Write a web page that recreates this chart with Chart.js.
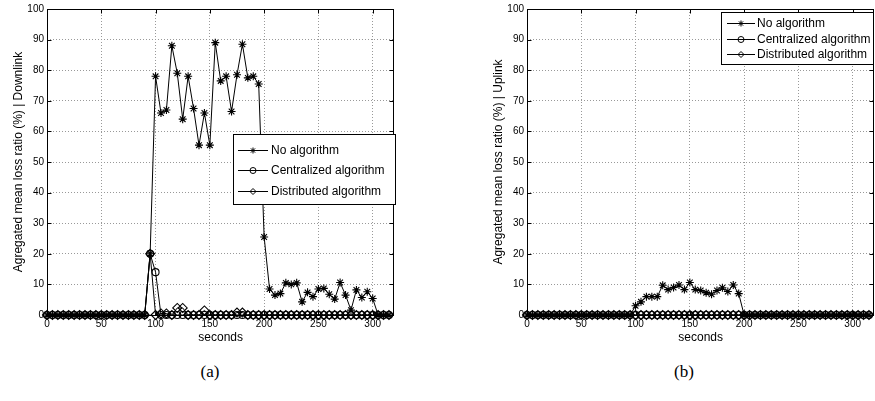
<!DOCTYPE html>
<html>
<head>
<meta charset="utf-8">
<script src="https://cdn.jsdelivr.net/npm/chart.js@4/dist/chart.umd.min.js"></script>
<style>
body{margin:0;background:#fff;width:875px;height:401px;overflow:hidden;position:relative}
.box{position:absolute;top:0}
.cap{position:absolute;top:362px;font:17px "Liberation Serif","DejaVu Serif",serif;line-height:20px;width:60px;text-align:center}
</style>
</head>
<body>
<div class="box" style="left:0"><canvas id="down" width="400" height="349"></canvas></div>
<div class="box" style="left:480px"><canvas id="up" width="400" height="349"></canvas></div>
<div class="cap" style="left:180px">(a)</div>
<div class="cap" style="left:654px">(b)</div>
<script>
var seconds = [0,5,10,15,20,25,30,35,40,45,
  50,55,60,65,70,75,80,85,90,95,
  100,105,110,115,120,125,130,135,140,145,
  150,155,160,165,170,175,180,185,190,195,
  200,205,210,215,220,225,230,235,240,245,
  250,255,260,265,270,275,280,285,290,295,
  300,305,310,315];

// Downlink
var downNone = [0,0,0,0,0,0,0,0,0,0,
  0,0,0,0,0,0,0,0,0,20,
  78,66,67,88,79,64,78,67.5,55.5,66,
  55.5,89,76.5,78,66.5,78.5,88.5,77.5,78,75.5,
  25.5,8.5,6.5,7,10.5,10,10.5,4.3,7.4,6,
  8.5,8.7,6.8,5.2,10.6,6.5,1.6,8.2,5.7,7.6,
  5.4,0,0,0];
var downCentral = [0,0,0,0,0,0,0,0,0,0,
  0,0,0,0,0,0,0,0,0,20,
  14,0,0,0,0,0,0,0,0,0,
  0,0,0,0,0,0,0,0,0,0,
  0,0,0,0,0,0,0,0,0,0,
  0,0,0,0,0,0,0,0,0,0,
  0,0,0,0];
var downDistrib = [0,0,0,0,0,0,0,0,0,0,
  0,0,0,0,0,0,0,0,0,20,
  0,0.5,0.5,0,2.3,2.3,0,0,0,1.5,
  0,0,0,0,0,0.8,0.8,0,0,0,
  0,0,0,0,0,0,0,0,0,0,
  0,0,0,0,0,0,0,0,0,0,
  0,0,0,0];

// Uplink
var upNone = [0,0,0,0,0,0,0,0,0,0,
  0,0,0,0,0,0,0,0,0,0,
  3,4.3,6,6,6,9.7,8.3,9,9.8,8.3,
  10.6,8.3,8,7.3,6.8,8,8.9,7.7,9.8,7,
  0,0,0,0,0,0,0,0,0,0,
  0,0,0,0,0,0,0,0,0,0,
  0,0,0,0];
var upCentral = [0,0,0,0,0,0,0,0,0,0,
  0,0,0,0,0,0,0,0,0,0,
  0,0,0,0,0,0,0,0,0,0,
  0,0,0,0,0,0,0,0,0,0,
  0,0,0,0,0,0,0,0,0,0,
  0,0,0,0,0,0,0,0,0,0,
  0,0,0,0];
var upDistrib = [0,0,0,0,0,0,0,0,0,0,
  0,0,0,0,0,0,0,0,0,0,
  0,0,0,0,0,0,0,0,0,0,
  0,0,0,0,0,0,0,0,0,0,
  0,0,0,0,0,0,0,0,0,0,
  0,0,0,0,0,0,0,0,0,0,
  0,0,0,0];

var xTicks = [0,50,100,150,200,250,300];
var yTicks = [0,10,20,30,40,50,60,70,80,90,100];
var names = ['No algorithm','Centralized algorithm','Distributed algorithm'];
var marks = ['star','circle','rectRot'];
var sizes = [4,3.5,4.5];

var F = '"Liberation Sans", Arial, Helvetica, sans-serif';

function pts(vals){
  return seconds.map(function(s, i){ return {x: s, y: vals[i]}; });
}

function sets(lists){
  return lists.map(function(vals, i){
    return {
      label: names[i],
      data: pts(vals),
      borderColor: '#000',
      borderWidth: 1,
      pointStyle: marks[i],
      pointRadius: sizes[i],
      pointBorderColor: '#000',
      pointBackgroundColor: 'rgba(0,0,0,0)',
      pointBorderWidth: 1.1,
      tension: 0,
      clip: false
    };
  });
}

// box around the axes + small inward ticks (matlab look)
var frame = {
  id: 'frame',
  afterDatasetsDraw: function(chart){
    var a = chart.chartArea, ctx = chart.ctx;
    var sx = chart.scales.x, sy = chart.scales.y;
    var l = Math.round(a.left) + 0.5, r = Math.round(a.right) - 0.5;
    var t = Math.round(a.top) + 0.5, b = Math.round(a.bottom) + 0.5;
    ctx.save();
    ctx.strokeStyle = '#000';
    ctx.lineWidth = 1;
    ctx.strokeRect(l, t, r - l, b - t);
    ctx.beginPath();
    xTicks.forEach(function(v){
      var px = Math.round(sx.getPixelForValue(v)) + 0.5;
      ctx.moveTo(px, b); ctx.lineTo(px, b - 4);
      ctx.moveTo(px, t); ctx.lineTo(px, t + 4);
    });
    yTicks.forEach(function(v){
      var py = Math.round(sy.getPixelForValue(v)) + 0.5;
      ctx.moveTo(l, py); ctx.lineTo(l + 4, py);
      ctx.moveTo(r, py); ctx.lineTo(r - 4, py);
    });
    ctx.stroke();
    ctx.restore();
  }
};

var boxLegend = {
  id: 'boxLegend',
  afterDraw: function(chart, args, o){
    var ctx = chart.ctx;
    ctx.save();
    ctx.fillStyle = '#fff';
    ctx.fillRect(o.x, o.y, o.w, o.h);
    ctx.strokeStyle = '#000';
    ctx.lineWidth = 1;
    ctx.strokeRect(o.x + 0.5, o.y + 0.5, o.w, o.h);
    ctx.font = '12px ' + F;
    ctx.textBaseline = 'middle';
    chart.data.datasets.forEach(function(d, i){
      var cy = Math.round(o.y + o.first + i * o.row) + 0.5;
      ctx.beginPath();
      ctx.moveTo(o.x + o.line0, cy);
      ctx.lineTo(o.x + o.line1, cy);
      ctx.stroke();
      ctx.fillStyle = 'rgba(0,0,0,0)';
      Chart.helpers.drawPoint(ctx, {pointStyle: d.pointStyle, radius: 3, rotation: 0, borderWidth: 1},
        o.x + (o.line0 + o.line1) / 2, cy);
      ctx.fillStyle = '#000';
      ctx.fillText(d.label, o.x + o.text, cy);
    });
    ctx.restore();
  }
};

function make(id, lists, title, legend){
  return new Chart(document.getElementById(id), {
    type: 'line',
    data: {datasets: sets(lists)},
    options: {
      responsive: false,
      animation: false,
      devicePixelRatio: 1,
      layout: {padding: {top: 7, right: 1, left: 0, bottom: 0}},
      plugins: {legend: {display: false}, tooltip: {enabled: false}, boxLegend: legend},
      scales: {
        x: {
          type: 'linear', min: 0, max: 320,
          afterBuildTicks: function(s){ s.ticks = xTicks.map(function(v){ return {value: v}; }); },
          afterFit: function(s){ s.height = 34; },
          grid: {color: '#999', drawTicks: false},
          border: {display: false, dash: [1, 2]},
          ticks: {padding: 3, color: '#000', maxRotation: 0, autoSkip: false, font: {size: 10, family: F}},
          title: {display: true, text: 'seconds', color: '#000', font: {size: 12, family: F}, padding: {top: 0, bottom: 4}}
        },
        y: {
          min: 0, max: 100,
          afterBuildTicks: function(s){ s.ticks = yTicks.map(function(v){ return {value: v}; }); },
          afterFit: function(s){ s.width = 47; },
          grid: {color: '#999', drawTicks: false},
          border: {display: false, dash: [1, 2]},
          ticks: {padding: 3, color: '#000', font: {size: 10, family: F}},
          title: {display: true, text: title, color: '#000', font: {size: 12, family: F}, padding: {top: 11, bottom: 0}}
        }
      }
    },
    plugins: [frame, boxLegend]
  });
}

make('down', [downNone, downCentral, downDistrib], 'Agregated mean loss ratio (%) | Downlink',
  {x: 233, y: 134, w: 162, h: 70, first: 15.5, row: 20.75, line0: 5, line1: 35, text: 38});
make('up', [upNone, upCentral, upDistrib], 'Agregated mean loss ratio (%) | Uplink',
  {x: 241, y: 12, w: 152, h: 52, first: 11.3, row: 15.5, line0: 6, line1: 34, text: 36});
</script>
</body>
</html>
